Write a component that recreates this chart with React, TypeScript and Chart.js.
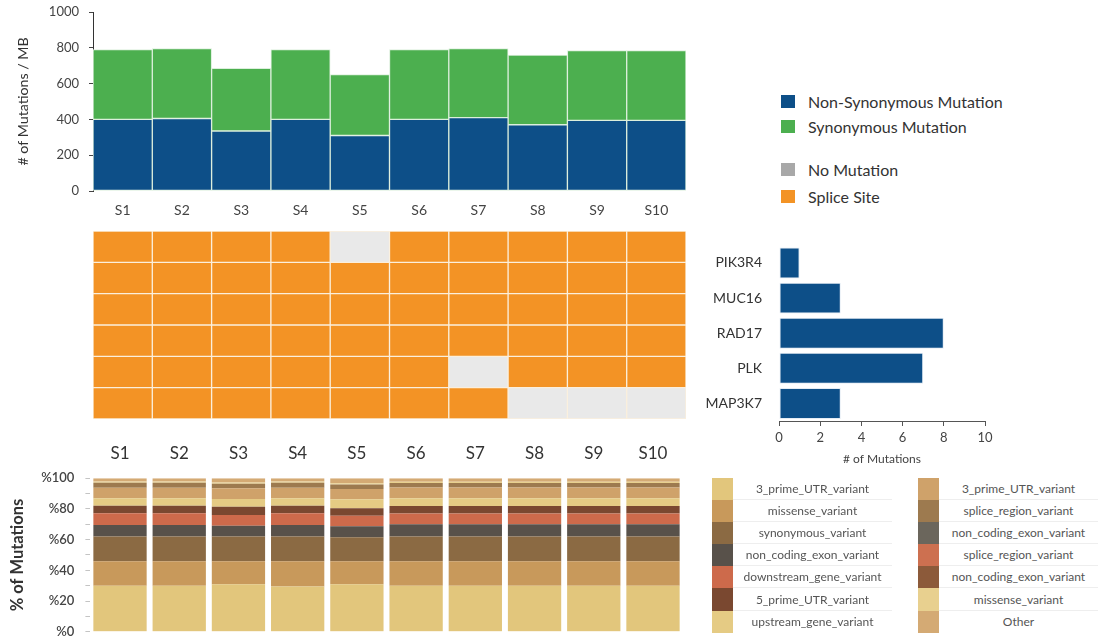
import React, { useEffect, useRef } from 'react';
import { Chart, registerables } from 'chart.js';

Chart.register(...registerables);

const FONT = 'Lato, "Open Sans", sans-serif';
Chart.defaults.font.family = FONT;
Chart.defaults.color = '#444';

// ---- Mutation burden per sample ----
const samples = ['S1', 'S2', 'S3', 'S4', 'S5', 'S6', 'S7', 'S8', 'S9', 'S10'];
const nonSynonymous = [400, 405, 335, 400, 310, 400, 410, 370, 395, 395];
const synonymous = [390, 390, 350, 390, 340, 390, 385, 390, 390, 390];

const BLUE = '#0d4f88';
const GREEN = '#4caf4f';
const GRAY = '#a8a8a8';
const ORANGE = '#f39325';
const NO_MUT = '#e9e9e9';

// ---- Splice-site status per gene row (1 = splice site, 0 = no mutation) ----
const spliceRow1 = [1, 1, 1, 1, 0, 1, 1, 1, 1, 1];
const spliceRow2 = [1, 1, 1, 1, 1, 1, 1, 1, 1, 1];
const spliceRow3 = [1, 1, 1, 1, 1, 1, 1, 1, 1, 1];
const spliceRow4 = [1, 1, 1, 1, 1, 1, 1, 1, 1, 1];
const spliceRow5 = [1, 1, 1, 1, 1, 1, 0, 1, 1, 1];
const spliceRow6 = [1, 1, 1, 1, 1, 1, 1, 0, 0, 0];
const spliceRows = [spliceRow1, spliceRow2, spliceRow3, spliceRow4, spliceRow5, spliceRow6];

// ---- Mutations per gene ----
const genes = ['PIK3R4', 'MUC16', 'RAD17', 'PLK', 'MAP3K7'];
const geneMutations = [1, 3, 8, 7, 3];

// ---- Variant class composition (% of mutations), bottom to top ----
const variantNames = [
  '3_prime_UTR_variant',
  'missense_variant',
  'synonymous_variant',
  'non_coding_exon_variant',
  'downstream_gene_variant',
  '5_prime_UTR_variant',
  'upstream_gene_variant',
  '3_prime_UTR_variant',
  'splice_region_variant',
  'non_coding_exon_variant',
  'splice_region_variant',
  'non_coding_exon_variant',
  'missense_variant',
  'Other',
];
const variantColors = [
  '#e2c67c', '#c8995b', '#8b6a43', '#58514a', '#cd6a4b', '#7a4830', '#e5cb84',
  '#cfa26a', '#9d7a4f', '#6b665c', '#cd7050', '#8c5a3a', '#e8d08f', '#d4aa74',
];
const utr3Share = [30, 30, 31, 29.5, 31, 30, 30, 30, 30, 30];
const missenseShare = [16, 16, 15, 16.5, 15, 16, 16, 16, 16, 16];
const synonymousShare = [16, 16, 16, 16, 15.5, 16, 16, 16, 16, 16];
const nonCodingExonShare = [7.6, 7.6, 7, 7.6, 7.2, 8, 8, 8, 8, 8];
const downstreamShare = [7.6, 7.6, 7, 7.6, 6.9, 7, 7, 7, 7, 7];
const utr5Share = [4.9, 4.9, 5.5, 4.9, 4.8, 5, 5, 5, 5, 5];
const upstreamShare = [4.9, 4.9, 5, 4.9, 5.9, 5, 5, 5, 5, 5];
const utr3bShare = [6.9, 6.9, 7, 6.9, 6.7, 7, 7, 7, 7, 7];
const spliceRegionShare = [3.2, 3.2, 3, 3.2, 3, 3, 3, 3, 3, 3];
const nonCodingExonBShare = [0, 0, 0, 0, 0, 0, 0, 0, 0, 0];
const spliceRegionBShare = [0, 0, 0, 0, 0, 0, 0, 0, 0, 0];
const nonCodingExonCShare = [0, 0, 0, 0, 0, 0, 0, 0, 0, 0];
const missenseBShare = [0.8, 0.8, 0.8, 0.8, 0.8, 0.8, 0.8, 0.8, 0.8, 0.8];
const otherShare = [2.1, 2.1, 2.7, 2.1, 3.2, 2.2, 2.2, 2.2, 2.2, 2.2];
const variantShares = [
  utr3Share, missenseShare, synonymousShare, nonCodingExonShare, downstreamShare,
  utr5Share, upstreamShare, utr3bShare, spliceRegionShare, nonCodingExonBShare,
  spliceRegionBShare, nonCodingExonCShare, missenseBShare, otherShare,
];

const noUi = { legend: { display: false }, tooltip: { enabled: false } };

// Fix the width of a vertical axis and drop the half-label overflow padding.
const fixVertical = (width: number) => (s: any) => {
  s.width = width;
  s.paddingTop = 0;
  s.paddingBottom = 0;
};

const burdenConfig: any = {
  type: 'bar',
  data: {
    labels: samples,
    datasets: [
      { label: 'Non-Synonymous Mutation', data: nonSynonymous, backgroundColor: BLUE },
      { label: 'Synonymous Mutation', data: synonymous, backgroundColor: GREEN },
    ].map((d) => ({
      ...d,
      borderColor: '#dcefdc',
      borderWidth: 1,
      borderSkipped: false,
      barPercentage: 1,
      categoryPercentage: 1,
    })),
  },
  options: {
    animation: false,
    responsive: false,
    layout: { padding: { top: 12, right: 14, bottom: 0, left: 0 } },
    plugins: noUi,
    scales: {
      x: {
        stacked: true,
        grid: { display: false, drawTicks: false },
        border: { display: false },
        ticks: { padding: 11, font: { size: 14 }, color: '#444' },
        afterFit: (s: any) => { s.height = 34; },
      },
      y: {
        stacked: true,
        min: 0,
        max: 1000,
        ticks: {
          stepSize: 200,
          padding: 10,
          font: { size: 13 },
          color: '#444',
          callback: (v: any) => String(v),
        },
        grid: { drawOnChartArea: false, tickLength: 4, color: '#444' },
        border: { display: true, color: '#333' },
        title: {
          display: true,
          text: '# of Mutations / MB',
          font: { size: 14.2 },
          color: '#333',
          padding: { top: 15, bottom: 0 },
        },
        afterFit: fixVertical(93),
      },
    },
  },
};

const spliceConfig: any = {
  type: 'bar',
  data: {
    labels: samples,
    datasets: spliceRows.map((row, r) => ({
      label: `row ${r + 1}`,
      data: row.map(() => 1),
      backgroundColor: row.map((v) => (v ? ORANGE : NO_MUT)),
      borderColor: '#fbefdc',
      borderWidth: 1,
      borderSkipped: false,
      barPercentage: 1,
      categoryPercentage: 1,
    })),
  },
  options: {
    animation: false,
    responsive: false,
    layout: { padding: 0 },
    plugins: noUi,
    scales: {
      x: { display: false, stacked: true },
      y: { display: false, stacked: true, reverse: true, min: 0, max: 6 },
    },
  },
};

const geneConfig: any = {
  type: 'bar',
  data: {
    labels: genes,
    datasets: [
      {
        label: '# of Mutations',
        data: geneMutations,
        backgroundColor: BLUE,
        borderColor: '#e4ecf4',
        borderWidth: 1,
        borderSkipped: false,
        barPercentage: 0.88,
        categoryPercentage: 1,
      },
    ],
  },
  options: {
    indexAxis: 'y',
    animation: false,
    responsive: false,
    layout: { padding: { top: 11, right: 35, bottom: 0, left: 0 } },
    plugins: noUi,
    scales: {
      y: {
        grid: { display: false, drawTicks: false },
        border: { display: false },
        ticks: { padding: 17, font: { size: 14 }, color: '#333' },
        afterFit: (s: any) => { s.width = 89; },
      },
      x: {
        min: 0,
        max: 10,
        ticks: { stepSize: 2, padding: 4, font: { size: 13 }, color: '#444' },
        grid: { drawOnChartArea: false, tickLength: 5, color: '#555' },
        border: { display: true, color: '#555' },
        title: {
          display: true,
          text: '# of Mutations',
          font: { size: 12 },
          color: '#444',
          padding: { top: 0, bottom: 4 },
        },
        afterFit: (s: any) => { s.height = 49; },
      },
    },
  },
};

const variantConfig: any = {
  type: 'bar',
  data: {
    labels: samples,
    datasets: variantShares.map((d, i) => ({
      label: variantNames[i],
      data: d,
      backgroundColor: variantColors[i],
      borderWidth: 0,
      barPercentage: 0.9,
      categoryPercentage: 1,
    })),
  },
  options: {
    animation: false,
    responsive: false,
    layout: { padding: { top: 0, right: 17.4, bottom: 8.3, left: 0 } },
    plugins: noUi,
    scales: {
      x: {
        position: 'top',
        stacked: true,
        grid: { display: false, drawTicks: false },
        border: { display: false },
        ticks: { padding: 15, font: { size: 17 }, color: '#333' },
        afterFit: (s: any) => { s.height = 38.3; },
      },
      y: {
        stacked: true,
        min: 0,
        max: 100,
        ticks: {
          stepSize: 10,
          autoSkip: false,
          padding: 11,
          font: { size: 13, weight: '600' },
          color: '#444',
          callback: (v: any) => (Number(v) % 20 === 0 ? '%' + v : ''),
        },
        grid: { drawOnChartArea: false, tickLength: 5, color: '#c4c4c4' },
        border: { display: false },
        title: {
          display: true,
          text: '% of Mutations',
          font: { size: 16.5, weight: 'bold' },
          color: '#333',
          padding: { top: 8, bottom: 0 },
        },
        afterFit: fixVertical(90.4),
      },
    },
  },
};

function ChartBox({ config, left, top, width, height }: any) {
  const ref = useRef<HTMLCanvasElement>(null);
  useEffect(() => {
    const chart = new Chart(ref.current as HTMLCanvasElement, config);
    return () => chart.destroy();
  }, [config]);
  return (
    <canvas
      ref={ref}
      width={width}
      height={height}
      style={{ position: 'absolute', left, top, width, height }}
    />
  );
}

const statusLegend = [
  { label: 'Non-Synonymous Mutation', color: BLUE, y: 101 },
  { label: 'Synonymous Mutation', color: GREEN, y: 126 },
  { label: 'No Mutation', color: GRAY, y: 169 },
  { label: 'Splice Site', color: ORANGE, y: 196 },
];

function VariantLegend({ start, left }: { start: number; left: number }) {
  const rows = variantNames.slice(start, start + 7);
  return (
    <div style={{ position: 'absolute', left, top: 478, width: 180 }}>
      {rows.map((name, i) => (
        <div key={i} style={{ display: 'flex', height: 22.1, alignItems: 'stretch' }}>
          <div style={{ width: 21, background: variantColors[start + i] }} />
          <div
            style={{
              flex: 1,
              display: 'flex',
              alignItems: 'center',
              justifyContent: 'center',
              fontSize: 12,
              color: '#555',
              whiteSpace: 'nowrap',
              borderBottom: i < 6 ? '1px solid #eeeeee' : 'none',
            }}
          >
            {name}
          </div>
        </div>
      ))}
    </div>
  );
}

export default function App() {
  return (
    <div
      style={{
        position: 'absolute',
        left: 0,
        top: 0,
        width: 1098,
        height: 636,
        overflow: 'hidden',
        background: '#ffffff',
        fontFamily: FONT,
      }}
    >
      <ChartBox config={burdenConfig} left={0} top={0} width={700} height={225} />
      <ChartBox config={spliceConfig} left={93} top={231} width={593} height={188} />
      <ChartBox config={geneConfig} left={690} top={220} width={330} height={250} />
      <ChartBox config={variantConfig} left={0} top={440} width={700} height={200} />

      {statusLegend.map((item) => (
        <div
          key={item.label}
          style={{
            position: 'absolute',
            left: 781,
            top: item.y - 9,
            height: 18,
            display: 'flex',
            alignItems: 'center',
            fontSize: 16,
            color: '#333',
            whiteSpace: 'nowrap',
          }}
        >
          <span style={{ width: 14, height: 13, background: item.color, marginRight: 13 }} />
          {item.label}
        </div>
      ))}

      <VariantLegend start={0} left={712} />
      <VariantLegend start={7} left={918} />
    </div>
  );
}
